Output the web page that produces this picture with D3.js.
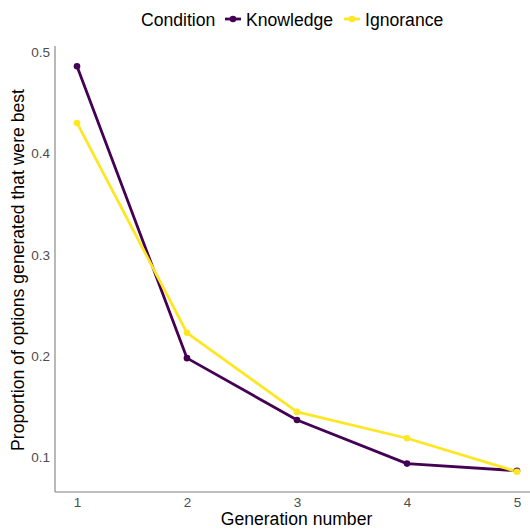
<!DOCTYPE html>
<html><head><meta charset="utf-8">
<script src="https://cdn.jsdelivr.net/npm/d3@7"></script>
<style>body{margin:0;background:#fff}svg{display:block}text{font-family:"Liberation Sans",Arial,sans-serif}</style>
</head><body><svg id="c" width="530" height="529"></svg>
<script>
const generations = [1, 2, 3, 4, 5];
const conditions = ["Knowledge", "Ignorance"];
const knowledge = [0.486, 0.198, 0.137, 0.094, 0.087];
const ignorance = [0.430, 0.223, 0.145, 0.119, 0.086];
const yTicks = [0.1, 0.2, 0.3, 0.4, 0.5];
const colors = {Knowledge: "#440154", Ignorance: "#FDE725"};
const seriesData = {Knowledge: knowledge, Ignorance: ignorance};

(function () {
const svg = d3.select("#c");
const mLeft = 55, mTop = 46, mBottom = 492;
const x = d3.scaleLinear().domain([0.8, 5.2]).range([mLeft, 539]);
const y = d3.scaleLinear().domain([0.1, 0.5]).range([457.5, 52]);

// axes
const xAxis = d3.axisBottom(x).tickValues(generations).tickFormat(d3.format("d")).tickSize(0).tickPadding(5);
const gx = svg.append("g").attr("transform", `translate(0,${mBottom})`).call(xAxis);
gx.select(".domain").attr("d", `M${mLeft},0H530`).attr("stroke", "#7f7f7f").attr("stroke-width", 1.1);
gx.selectAll("text").attr("font-size", 13.5).attr("fill", "#4d4d4d");

const yAxis = d3.axisLeft(y).tickValues(yTicks).tickFormat(d3.format(".1f")).tickSize(0).tickPadding(5);
const gy = svg.append("g").attr("transform", `translate(${mLeft},0)`).call(yAxis);
gy.select(".domain").attr("d", `M0,${mTop}V${mBottom}`).attr("stroke", "#7f7f7f").attr("stroke-width", 1.1);
gy.selectAll("text").attr("font-size", 13.5).attr("fill", "#4d4d4d");

// lines & points
const line = d3.line().x((d, i) => x(generations[i])).y(d => y(d));
conditions.forEach(c => {
  svg.append("path").datum(seriesData[c]).attr("d", line)
    .attr("fill", "none").attr("stroke", colors[c]).attr("stroke-width", 2.8).attr("stroke-linejoin", "round");
});
conditions.forEach(c => {
  svg.append("g").selectAll("circle").data(seriesData[c]).join("circle")
    .attr("cx", (d, i) => x(generations[i])).attr("cy", d => y(d)).attr("r", 3.3).attr("fill", colors[c]);
});

// axis titles
svg.append("text").attr("x", 296.5).attr("y", 525).attr("text-anchor", "middle")
  .attr("font-size", 17.6).attr("fill", "#000").text("Generation number");
svg.append("text").attr("transform", `translate(24,270) rotate(-90)`).attr("text-anchor", "middle")
  .attr("font-size", 17.6).attr("fill", "#000").text("Proportion of options generated that were best");

// legend
const lg = svg.append("g").attr("transform", "translate(0,25.5)");
lg.append("text").attr("x", 141).attr("y", 0).attr("font-size", 17.6).text("Condition");
const items = [{c: "Knowledge", kx: 233, tx: 246}, {c: "Ignorance", kx: 352, tx: 365}];
items.forEach(it => {
  lg.append("line").attr("x1", it.kx - 8).attr("x2", it.kx + 8).attr("y1", -6.5).attr("y2", -6.5)
    .attr("stroke", colors[it.c]).attr("stroke-width", 2.8);
  lg.append("circle").attr("cx", it.kx).attr("cy", -6.5).attr("r", 3.3).attr("fill", colors[it.c]);
  lg.append("text").attr("x", it.tx).attr("y", 0).attr("font-size", 17.6).text(it.c);
});
})();
</script></body></html>
